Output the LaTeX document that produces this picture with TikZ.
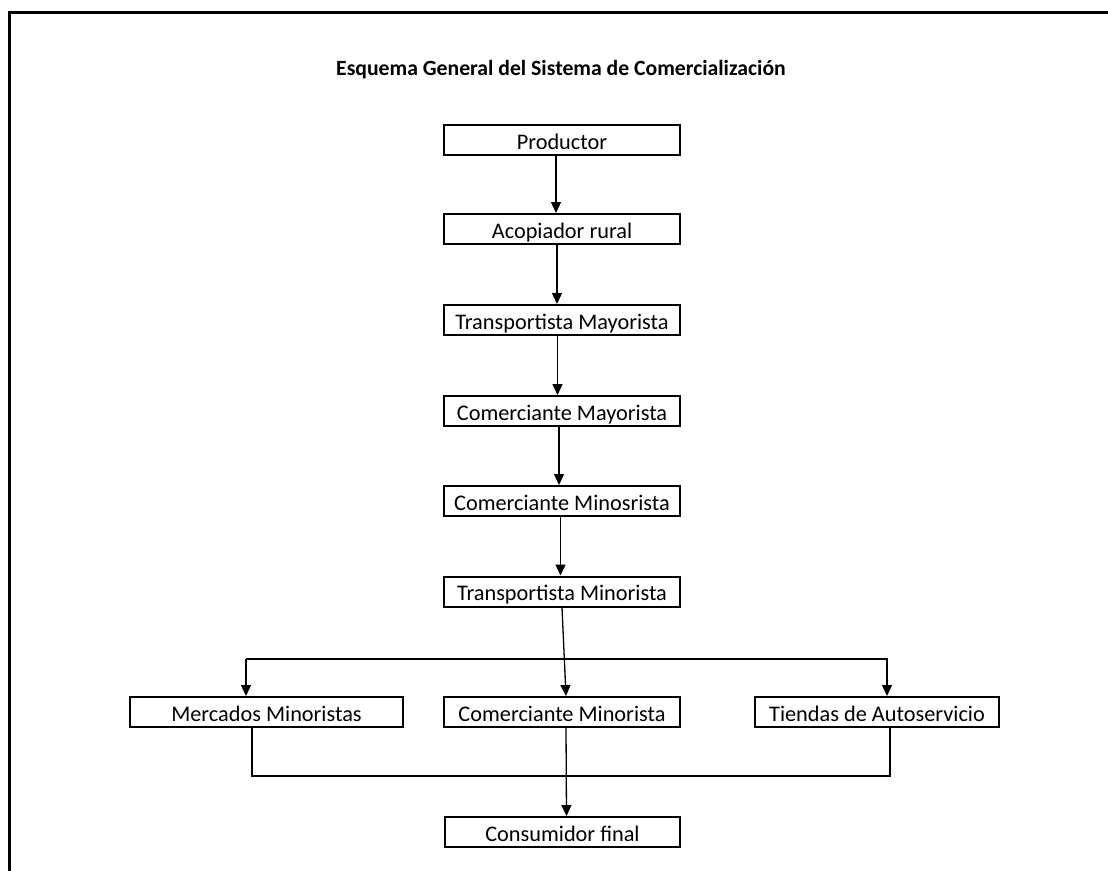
\documentclass[tikz,border=0pt]{standalone}
\usepackage{fontspec}
\setmainfont{Carlito}
\usetikzlibrary{arrows.meta}
\begin{document}
\begin{tikzpicture}[x=1pt,y=-1pt,
  box/.style={draw,line width=2pt,minimum height=30pt,inner sep=0pt,
    text height=18pt,text depth=0pt,
    font=\fontsize{22.3}{26}\selectfont},
  conn/.style={line width=1.3pt},
  arr/.style={conn,-{Triangle[length=11pt,width=10pt]}}]
\useasboundingbox (0,0) rectangle (1108,870);
\fill[white] (0,0) rectangle (1108,870);
\draw[line width=3pt] (9,875) -- (9,12) -- (1115,12);
\node[font=\fontsize{21.7}{26}\selectfont\bfseries] (title) at (561,70) {Esquema General del Sistema de Comercialización};
\node[box,minimum width=236pt] (prod) at (562,140) {Productor};
\node[box,minimum width=236pt] (acop) at (562,229) {Acopiador rural};
\node[box,minimum width=236pt] (tmay) at (562,320) {Transportista Mayorista};
\node[box,minimum width=236pt] (cmay) at (562,411) {Comerciante Mayorista};
\node[box,minimum width=236pt] (cmin) at (562,501) {Comerciante Minosrista};
\node[box,minimum width=236pt] (tmin) at (562,591.5) {Transportista Minorista};
\node[box,minimum width=273pt] (merc) at (266.5,712) {Mercados Minoristas};
\node[box,minimum width=236pt] (com) at (562,712) {Comerciante Minorista};
\node[box,minimum width=244pt] (tien) at (877,712) {Tiendas de Autoservicio};
\node[box,minimum width=235pt] (cons) at (562.5,832) {Consumidor final};
\draw[arr] ([xshift=-6pt]prod.south) -- ([xshift=-6pt]acop.north);
\draw[arr] ([xshift=-5pt]acop.south) -- ([xshift=-5pt]tmay.north);
\draw[arr] ([xshift=-4.5pt]tmay.south) -- ([xshift=-4.5pt]cmay.north);
\draw[arr] ([xshift=-3pt]cmay.south) -- ([xshift=-3pt]cmin.north);
\draw[arr] ([xshift=-1.5pt]cmin.south) -- ([xshift=-1.5pt]tmin.north);
% branch
\coordinate (bl) at (246,659);
\coordinate (br) at (888,659);
\draw[conn] (bl) -- (br);
\draw[arr] (tmin.south) -- ([xshift=4pt]com.north);
\draw[arr] (bl) -- (merc.north -| bl);
\draw[arr] ([xshift=-1pt]br) -- ([xshift=-1pt]tien.north -| br);
% merge
\coordinate (ml) at ([xshift=-14.5pt]merc.south);
\coordinate (tr) at ([xshift=13pt]tien.south);
\coordinate (low) at (0,776);
\draw[conn] (ml) -- (ml |- low) -- (tr |- low) -- (tr);
\draw[arr] ([xshift=4pt]com.south) -- ([xshift=4pt]cons.north);
\end{tikzpicture}
\end{document}
